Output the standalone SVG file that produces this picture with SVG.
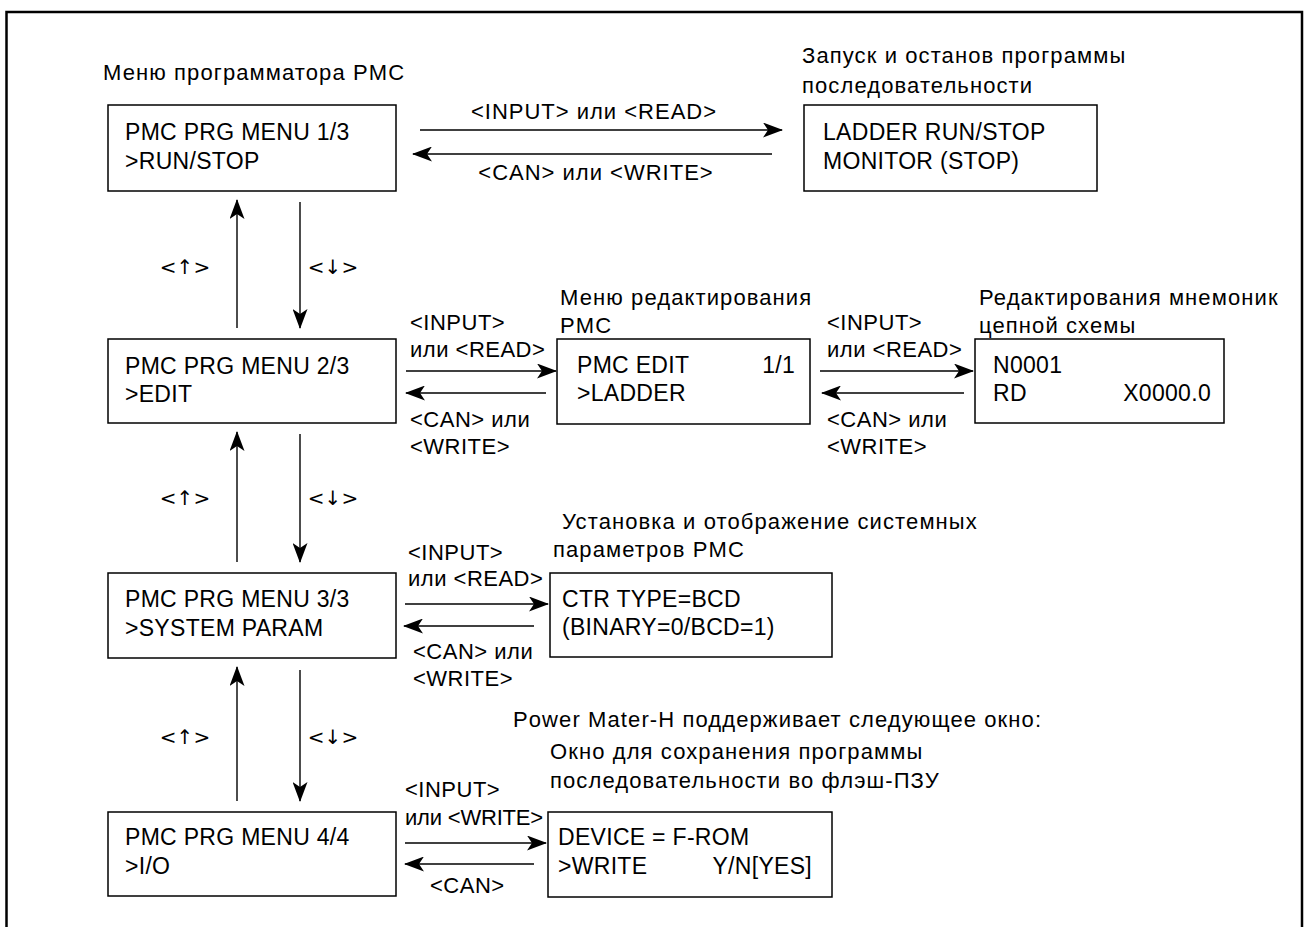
<svg xmlns="http://www.w3.org/2000/svg" width="1304" height="927" viewBox="0 0 1304 927">
<defs>
<marker id="ah" viewBox="0 0 20 15" refX="19" refY="7.5" markerWidth="20" markerHeight="15" markerUnits="userSpaceOnUse" orient="auto">
<path d="M0,0 L20,7.5 L0,15 L5,7.5 Z" fill="#000"/>
</marker>
</defs>
<style>
text{font-family:"Liberation Sans",Arial,sans-serif;fill:#000}
.b{font-size:23px;letter-spacing:0.3px}
.l{font-size:22px;letter-spacing:1.1px}
.t{font-size:22px;letter-spacing:1px}
.r{font-size:22px;letter-spacing:0.5px}
.k{font-size:20px;font-family:"DejaVu Sans",sans-serif}
.box{fill:#fff;stroke:#000;stroke-width:1.5}
.c{stroke:#000;stroke-width:1.4;fill:none;marker-end:url(#ah)}
</style>
<rect x="0" y="0" width="1304" height="927" fill="#fff"/>
<rect x="6.5" y="12" width="1295.5" height="940" fill="none" stroke="#000" stroke-width="2.5"/>

<g id="connectors">
<line class="c" x1="420" y1="130" x2="782" y2="130"/>
<line class="c" x1="772" y1="154" x2="413" y2="154"/>
<line class="c" x1="237" y1="328" x2="237" y2="200"/>
<line class="c" x1="300" y1="202" x2="300" y2="328"/>
<line class="c" x1="406" y1="371" x2="556" y2="371"/>
<line class="c" x1="546" y1="393" x2="406" y2="393"/>
<line class="c" x1="820" y1="371" x2="973" y2="371"/>
<line class="c" x1="964" y1="393" x2="822" y2="393"/>
<line class="c" x1="237" y1="562" x2="237" y2="432"/>
<line class="c" x1="300" y1="434" x2="300" y2="562"/>
<line class="c" x1="405" y1="604" x2="548" y2="604"/>
<line class="c" x1="534" y1="626" x2="404" y2="626"/>
<line class="c" x1="237" y1="801" x2="237" y2="667"/>
<line class="c" x1="300" y1="670" x2="300" y2="801"/>
<line class="c" x1="405" y1="843" x2="546" y2="843"/>
<line class="c" x1="534" y1="864" x2="405" y2="864"/>
<text class="t" x="594" y="119" text-anchor="middle">&lt;INPUT&gt; или &lt;READ&gt;</text>
<text class="t" x="596" y="180" text-anchor="middle">&lt;CAN&gt; или &lt;WRITE&gt;</text>
<text class="k" x="185" y="274" text-anchor="middle">&lt;↑&gt;</text>
<text class="k" x="333" y="274" text-anchor="middle">&lt;↓&gt;</text>
<text class="k" x="185" y="505" text-anchor="middle">&lt;↑&gt;</text>
<text class="k" x="333" y="505" text-anchor="middle">&lt;↓&gt;</text>
<text class="k" x="185" y="744" text-anchor="middle">&lt;↑&gt;</text>
<text class="k" x="333" y="744" text-anchor="middle">&lt;↓&gt;</text>
<text class="r" x="410" y="330">&lt;INPUT&gt;</text>
<text class="r" x="410" y="357">или &lt;READ&gt;</text>
<text class="r" x="410" y="427">&lt;CAN&gt; или</text>
<text class="r" x="410" y="454">&lt;WRITE&gt;</text>
<text class="r" x="827" y="330">&lt;INPUT&gt;</text>
<text class="r" x="827" y="357">или &lt;READ&gt;</text>
<text class="r" x="827" y="427">&lt;CAN&gt; или</text>
<text class="r" x="827" y="454">&lt;WRITE&gt;</text>
<text class="r" x="408" y="560">&lt;INPUT&gt;</text>
<text class="r" x="408" y="586">или &lt;READ&gt;</text>
<text class="r" x="413" y="659">&lt;CAN&gt; или</text>
<text class="r" x="413" y="686">&lt;WRITE&gt;</text>
<text class="r" x="405" y="797">&lt;INPUT&gt;</text>
<text class="r" x="405" y="825" style="letter-spacing:-0.2px">или &lt;WRITE&gt;</text>
<text class="r" x="430" y="893">&lt;CAN&gt;</text>
</g>

<g id="captions">
<text class="l" x="103" y="80">Меню программатора PMC</text>
<text class="l" x="802" y="63">Запуск и останов программы</text>
<text class="l" x="802" y="93">последовательности</text>
<text class="l" x="560" y="305">Меню редактирования</text>
<text class="l" x="560" y="333">PMC</text>
<text class="l" x="979" y="305">Редактирования мнемоник</text>
<text class="l" x="979" y="333">цепной схемы</text>
<text class="l" x="562" y="529">Установка и отображение системных</text>
<text class="l" x="553" y="557">параметров PMC</text>
<text class="l" x="513" y="727">Power Mater-H поддерживает следующее окно:</text>
<text class="l" x="550" y="759">Окно для сохранения программы</text>
<text class="l" x="550" y="788">последовательности во флэш-ПЗУ</text>
</g>

<g id="menu1">
<rect class="box" x="108" y="105" width="288" height="86"/>
<text class="b" x="125" y="140">PMC PRG MENU 1/3</text>
<text class="b" x="125" y="169">&gt;RUN/STOP</text>
</g>
<g id="runstop">
<rect class="box" x="804" y="105" width="293" height="86"/>
<text class="b" x="823" y="140">LADDER RUN/STOP</text>
<text class="b" x="823" y="169">MONITOR (STOP)</text>
</g>
<g id="menu2">
<rect class="box" x="108" y="339" width="288" height="84"/>
<text class="b" x="125" y="374">PMC PRG MENU 2/3</text>
<text class="b" x="125" y="402">&gt;EDIT</text>
</g>
<g id="edit">
<rect class="box" x="557" y="339" width="253" height="85"/>
<text class="b" x="577" y="373">PMC EDIT</text>
<text class="b" x="795" y="373" text-anchor="end">1/1</text>
<text class="b" x="577" y="401">&gt;LADDER</text>
</g>
<g id="mnemonic">
<rect class="box" x="975" y="339" width="249" height="84"/>
<text class="b" x="993" y="373">N0001</text>
<text class="b" x="993" y="401">RD</text>
<text class="b" x="1211" y="401" text-anchor="end">X0000.0</text>
</g>
<g id="menu3">
<rect class="box" x="108" y="573" width="288" height="85"/>
<text class="b" x="125" y="607">PMC PRG MENU 3/3</text>
<text class="b" x="125" y="636">&gt;SYSTEM PARAM</text>
</g>
<g id="sysparam">
<rect class="box" x="550" y="573" width="282" height="84"/>
<text class="b" x="562" y="607">CTR TYPE=BCD</text>
<text class="b" x="562" y="635">(BINARY=0/BCD=1)</text>
</g>
<g id="menu4">
<rect class="box" x="108" y="812" width="288" height="84"/>
<text class="b" x="125" y="845">PMC PRG MENU 4/4</text>
<text class="b" x="125" y="874">&gt;I/O</text>
</g>
<g id="flash">
<rect class="box" x="548" y="812" width="284" height="85"/>
<text class="b" x="558" y="845">DEVICE = F-ROM</text>
<text class="b" x="558" y="874">&gt;WRITE</text>
<text class="b" x="812" y="874" text-anchor="end">Y/N[YES]</text>
</g>
</svg>
